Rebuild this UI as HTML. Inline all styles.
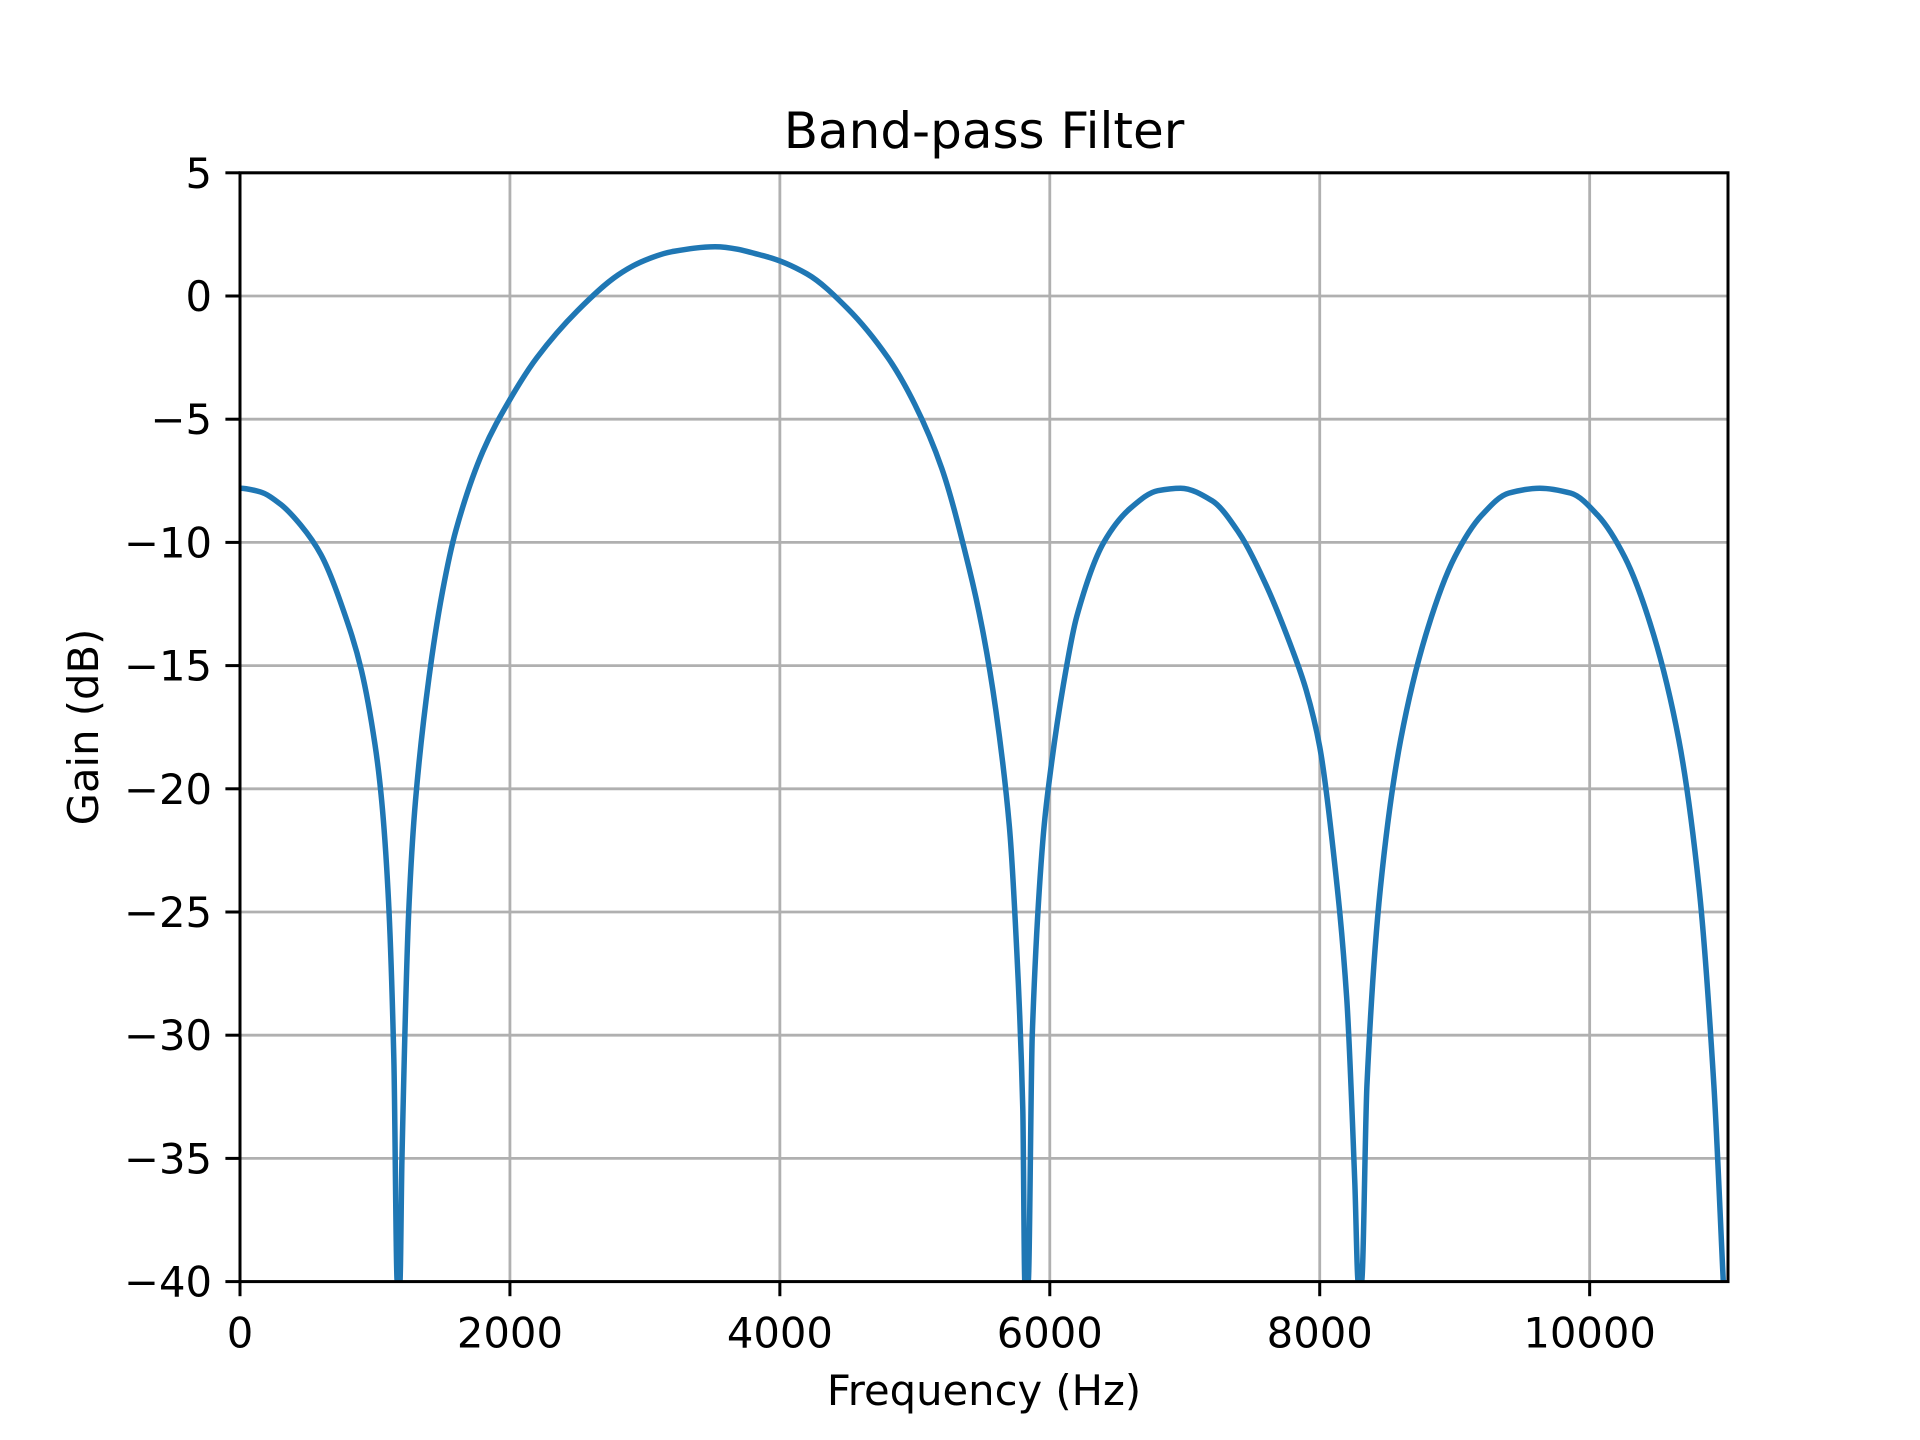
<!DOCTYPE html>
<html><head><meta charset="utf-8"><style>
html,body{margin:0;padding:0;background:#fff;}
svg{display:block;font-family:"DejaVu Sans","Liberation Sans",sans-serif;}
</style></head><body>
<svg id="chart" width="1920" height="1440" viewBox="0 0 1920 1440">
<rect width="1920" height="1440" fill="#fff"/>
<g id="grid"></g>
<g id="curve"></g>
<g id="axes"></g>
<text x="984" y="148" font-size="50" text-anchor="middle">Band-pass Filter</text>
<text x="984" y="1405" font-size="41.7" text-anchor="middle">Frequency (Hz)</text>
<text x="0" y="0" font-size="41.7" text-anchor="middle" transform="translate(98,727) rotate(-90)">Gain (dB)</text>
</svg>
<script>
const freqs = [0,150,300,450,600,800,900,1000,1050,1100,1140,1165,
 1185,1200,1250,1300,1400,1500,1600,1800,2000,2200,2500,2800,3000,3200,3520,3900,4200,4500,4800,5000,5200,5400,5500,5600,5700,5750,5800,5815,
 5840,5870,5950,6000,6100,6200,6400,6600,6800,6970,7200,7400,7600,7800,7900,8000,8100,8200,8260,8285,
 8310,8350,8450,8600,8800,9000,9200,9400,9630,9860,10060,10260,10460,10660,10810,10920,10990];
const gains = [-7.8,-7.95,-8.45,-9.3,-10.5,-13.3,-15.2,-18.2,-20.5,-24.5,-31,-40,
 -40,-35,-25,-20.5,-15.5,-12,-9.5,-6.3,-4.2,-2.5,-0.6,0.85,1.45,1.8,2.0,1.6,0.9,-0.5,-2.5,-4.4,-7.0,-11.0,-13.5,-16.8,-21.5,-26,-33,-40,
 -40,-30,-22,-19.5,-15.8,-13,-10,-8.6,-7.9,-7.8,-8.3,-9.6,-11.7,-14.4,-16.0,-18.3,-22.5,-28.5,-36,-40,
 -40,-32,-24,-18,-13.5,-10.6,-8.9,-8.0,-7.8,-8.0,-8.9,-10.6,-13.5,-18,-24,-32,-40];
const xTicks = [0,2000,4000,6000,8000,10000];
const yTicks = [5,0,-5,-10,-15,-20,-25,-30,-35,-40];
const xLabels = ["0","2000","4000","6000","8000","10000"];
const yLabels = ["5","0","\u22125","\u221210","\u221215","\u221220","\u221225","\u221230","\u221235","\u221240"];

const L=240,R=1728,T=172.8,B=1281.6,XMAX=11025,YMIN=-40,YMAX=5;
function sx(v){return L+(v/XMAX)*(R-L);}
function sy(v){return B-(v-YMIN)/(YMAX-YMIN)*(B-T);}
const NS="http://www.w3.org/2000/svg";
function mk(tag,attrs,parent){const e=document.createElementNS(NS,tag);for(const k in attrs)e.setAttribute(k,attrs[k]);parent.appendChild(e);return e;}
const grid=document.getElementById('grid'),axes=document.getElementById('axes'),curve=document.getElementById('curve');
xTicks.forEach((t,i)=>{
  const g=mk('line',{x1:sx(t),x2:sx(t),y1:T,y2:B,stroke:'#b0b0b0','stroke-width':2.8},grid);
  
  
  const tk=mk('line',{x1:sx(t),x2:sx(t),y1:B,y2:B+14.6,stroke:'#000','stroke-width':3},axes);
  
  
  const lb=mk('text',{x:sx(t),y:B+66,'font-size':41.7,'text-anchor':'middle'},axes);
  lb.textContent=xLabels[i];
  
  
});
yTicks.forEach((t,i)=>{
  const g=mk('line',{x1:L,x2:R,y1:sy(t),y2:sy(t),stroke:'#b0b0b0','stroke-width':2.8},grid);
  
  
  const tk=mk('line',{x1:L-14.6,x2:L,y1:sy(t),y2:sy(t),stroke:'#000','stroke-width':3},axes);
  
  
  const lb=mk('text',{x:L-28,y:sy(t)+15,'font-size':41.7,'text-anchor':'end'},axes);
  lb.textContent=yLabels[i];
  
  
});
const fr=mk('rect',{x:L,y:T,width:R-L,height:B-T,fill:'none',stroke:'#000','stroke-width':3},axes);


const clip=mk('clipPath',{id:'clp'},curve);
mk('rect',{x:L,y:T,width:R-L,height:B-T},clip);
const px=freqs.map(sx), py=gains.map(g=>sy(Math.max(g,YMIN)));
const n=px.length, dl=[], m=[];
for(let i=0;i<n-1;i++)dl.push((py[i+1]-py[i])/(px[i+1]-px[i]));
for(let i=0;i<n;i++){
  if(i===0)m.push(0);else if(i===n-1)m.push(dl[n-2]);
  else m.push(dl[i-1]*dl[i]<=0?0:2/(1/dl[i-1]+1/dl[i]));
}
let d='M'+px[0].toFixed(2)+' '+py[0].toFixed(2);
for(let i=0;i<n-1;i++){
  const h=px[i+1]-px[i];
  d+=' C'+(px[i]+h/3).toFixed(2)+' '+(py[i]+m[i]*h/3).toFixed(2)+' '+(px[i+1]-h/3).toFixed(2)+' '+(py[i+1]-m[i+1]*h/3).toFixed(2)+' '+px[i+1].toFixed(2)+' '+py[i+1].toFixed(2);
}
const p=mk('path',{d:d,fill:'none',stroke:'#1f77b4','stroke-width':5.5,'stroke-linejoin':'round','clip-path':'url(#clp)'},curve);


</script>
</body></html>
